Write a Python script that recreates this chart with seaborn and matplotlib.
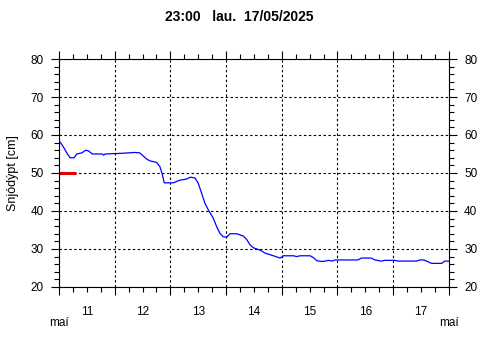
import numpy as np
import pandas as pd
import seaborn as sns
import matplotlib
matplotlib.use('Agg')
import matplotlib.pyplot as plt
from matplotlib.ticker import MultipleLocator, FuncFormatter, NullFormatter

# days since 11 May 00:00 and snow depth (cm)
t_days = [0.0, 0.05, 0.1, 0.15, 0.2, 0.27, 0.32, 0.41, 0.48, 0.53, 0.6, 0.78, 0.8, 0.83,
          1.15, 1.36, 1.45, 1.51, 1.57, 1.63, 1.75, 1.81, 1.85, 1.89, 2.05, 2.17, 2.29,
          2.36, 2.44, 2.5, 2.56, 2.62, 2.68, 2.77, 2.83, 2.89, 2.95, 3.01, 3.07, 3.19,
          3.31, 3.37, 3.43, 3.49, 3.61, 3.70, 3.85, 3.97, 4.03, 4.21, 4.27, 4.33, 4.51,
          4.57, 4.63, 4.72, 4.78, 4.84, 4.90, 4.96, 5.37, 5.43, 5.61, 5.67, 5.79, 5.85,
          6.03, 6.09, 6.42, 6.48, 6.55, 6.60, 6.69, 6.87, 6.93, 7.0]
depth = [58.5, 57.5, 56.3, 55.0, 54.0, 54.0, 55.0, 55.3, 56.0, 55.8, 55.0, 55.0, 54.7, 55.0,
         55.2, 55.4, 55.3, 54.5, 53.7, 53.2, 52.8, 51.7, 49.9, 47.4, 47.4, 48.1, 48.4,
         48.9, 48.7, 47.3, 44.7, 42.0, 40.3, 38.1, 35.9, 34.1, 33.2, 33.1, 34.0, 34.0,
         33.4, 32.5, 31.1, 30.3, 29.7, 28.9, 28.2, 27.6, 28.2, 28.2, 28.0, 28.2, 28.2,
         27.7, 26.9, 26.7, 26.8, 27.0, 26.8, 27.1, 27.1, 27.6, 27.6, 27.1, 26.8, 27.0,
         27.0, 26.8, 26.8, 27.1, 27.1, 26.8, 26.2, 26.2, 26.8, 26.8]
start_day = 11
ref_x = [0.0, 0.3]
ref_y = [50, 50]
title = "23:00   lau.  17/05/2025"
month = "maí"

df = pd.DataFrame({'x': np.array(t_days) + start_day, 'y': depth})

sns.set_theme(style='white')
plt.rcParams['font.family'] = ['Liberation Sans', 'DejaVu Sans']
plt.rcParams['text.color'] = 'black'
plt.rcParams['axes.labelcolor'] = 'black'

fig = plt.figure(figsize=(4.8, 3.6), dpi=100)
ax = fig.add_axes([0.123, 0.203, 0.812, 0.633])

ax.plot(np.array(ref_x) + start_day, ref_y, color='#e00000', lw=2.2, zorder=1, solid_capstyle='butt')
sns.lineplot(data=df, x='x', y='y', ax=ax, color='#0000ff', lw=0.9, zorder=3)

ax.set_xlim(11, 18)
ax.set_ylim(20, 80)
ax.set_xlabel('')
ax.set_ylabel('Snjódýpt [cm]', fontsize=9, labelpad=8)

ax.xaxis.set_major_locator(MultipleLocator(1))
ax.xaxis.set_minor_locator(MultipleLocator(0.25))
ax.xaxis.set_major_formatter(NullFormatter())
ax.xaxis.set_minor_formatter(FuncFormatter(
    lambda v, p: str(int(v)) if abs(v % 1 - 0.5) < 1e-6 else ''))
ax.yaxis.set_major_locator(MultipleLocator(10))
ax.yaxis.set_minor_locator(MultipleLocator(2))

ax.tick_params(which='both', direction='out', top=True, right=True, bottom=True, left=True,
               labelright=True, color='black', width=0.8, labelsize=8.5, labelcolor='black')
ax.tick_params(which='major', length=6)
ax.tick_params(which='minor', length=3.5)
ax.tick_params(axis='x', which='minor', pad=10)
ax.tick_params(axis='y', pad=5)

ax.grid(which='major', color='black', lw=0.8, linestyle=(0, (2.2, 2.2)))
for s in ax.spines.values():
    s.set_color('black')
    s.set_linewidth(0.8)

fig.text(0.498, 0.952, title, ha='center', va='center', fontsize=10, fontweight='bold')
fig.text(59 / 480, 1 - 323 / 360, month, ha='center', va='center', fontsize=8.5)
fig.text(449 / 480, 1 - 323 / 360, month, ha='center', va='center', fontsize=8.5)

fig.savefig('out.png', dpi=100, facecolor='white')
